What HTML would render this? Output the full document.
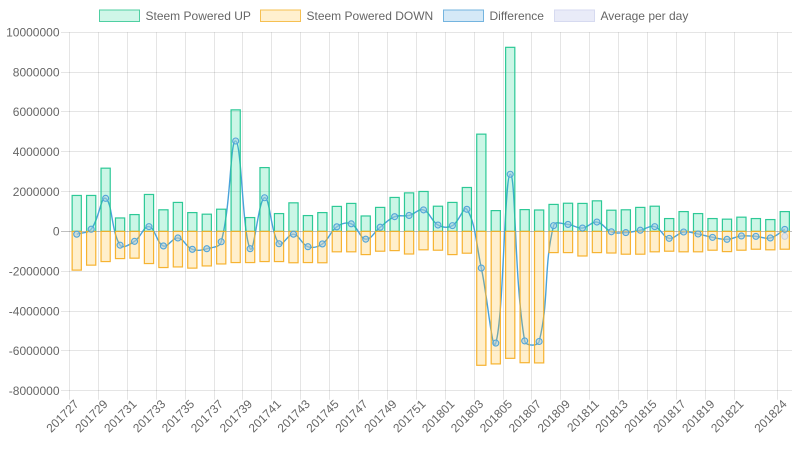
<!DOCTYPE html>
<html>
<head>
<meta charset="utf-8">
<style>
  html,body{margin:0;padding:0;background:#fff;}
  svg{display:block;font-family:"Liberation Sans",Arial,sans-serif;}
  .t{font-size:12px;fill:#666;}
</style>
</head>
<body>
<svg id="c" width="798" height="450" viewBox="0 0 798 450" xmlns="http://www.w3.org/2000/svg">
  <!-- Legend -->
  <rect x="99.5" y="10" width="40" height="11.5" fill="#cff6e8" stroke="#4fcfa2" stroke-width="1"/>
  <text class="t" x="145.5" y="19.8">Steem Powered UP</text>
  <rect x="260.5" y="10" width="40" height="11.5" fill="#fff0cf" stroke="#f6c052" stroke-width="1"/>
  <text class="t" x="306.5" y="19.8">Steem Powered DOWN</text>
  <rect x="443.5" y="10" width="40" height="11.5" fill="#d5e9f7" stroke="#74b4df" stroke-width="1"/>
  <text class="t" x="489.5" y="19.8">Difference</text>
  <rect x="554.5" y="10" width="40" height="11.5" fill="#e9ebf8" stroke="#d6daf0" stroke-width="1"/>
  <text class="t" x="600.5" y="19.8">Average per day</text>

  <g id="grid"></g>

  <!-- Y labels -->
  <g class="t" text-anchor="end">
    <text x="59.5" y="36.6">10000000</text>
    <text x="59.5" y="76.4">8000000</text>
    <text x="59.5" y="116.2">6000000</text>
    <text x="59.5" y="156.1">4000000</text>
    <text x="59.5" y="195.9">2000000</text>
    <text x="59.5" y="235.7">0</text>
    <text x="59.5" y="275.5">-2000000</text>
    <text x="59.5" y="315.3">-4000000</text>
    <text x="59.5" y="355.2">-6000000</text>
    <text x="59.5" y="395.0">-8000000</text>
  </g>

  <!-- X labels -->
  <g class="t" text-anchor="end">
    <text transform="translate(76.7,402) rotate(-45)" dy="4">201727</text>
    <text transform="translate(105.6,402) rotate(-45)" dy="4">201729</text>
    <text transform="translate(134.5,402) rotate(-45)" dy="4">201731</text>
    <text transform="translate(163.4,402) rotate(-45)" dy="4">201733</text>
    <text transform="translate(192.3,402) rotate(-45)" dy="4">201735</text>
    <text transform="translate(221.2,402) rotate(-45)" dy="4">201737</text>
    <text transform="translate(250.1,402) rotate(-45)" dy="4">201739</text>
    <text transform="translate(279.0,402) rotate(-45)" dy="4">201741</text>
    <text transform="translate(307.9,402) rotate(-45)" dy="4">201743</text>
    <text transform="translate(336.8,402) rotate(-45)" dy="4">201745</text>
    <text transform="translate(365.7,402) rotate(-45)" dy="4">201747</text>
    <text transform="translate(394.6,402) rotate(-45)" dy="4">201749</text>
    <text transform="translate(423.5,402) rotate(-45)" dy="4">201751</text>
    <text transform="translate(452.4,402) rotate(-45)" dy="4">201801</text>
    <text transform="translate(481.3,402) rotate(-45)" dy="4">201803</text>
    <text transform="translate(510.2,402) rotate(-45)" dy="4">201805</text>
    <text transform="translate(539.1,402) rotate(-45)" dy="4">201807</text>
    <text transform="translate(568.0,402) rotate(-45)" dy="4">201809</text>
    <text transform="translate(596.9,402) rotate(-45)" dy="4">201811</text>
    <text transform="translate(625.8,402) rotate(-45)" dy="4">201813</text>
    <text transform="translate(654.7,402) rotate(-45)" dy="4">201815</text>
    <text transform="translate(683.6,402) rotate(-45)" dy="4">201817</text>
    <text transform="translate(712.5,402) rotate(-45)" dy="4">201819</text>
    <text transform="translate(741.4,402) rotate(-45)" dy="4">201821</text>
    <text transform="translate(784.8,402) rotate(-45)" dy="4">201824</text>
  </g>

  <g id="line"></g>
  <g id="bars"></g>
  <g id="pts"></g>
</svg>
<script>
(function(){
  var NS="http://www.w3.org/2000/svg";
  function el(tag,attrs,parent){var e=document.createElementNS(NS,tag);for(var k in attrs)e.setAttribute(k,attrs[k]);parent.appendChild(e);return e;}
  var L=69.5,R=792,CW=14.45,TOP=32.3,BOT=390.7;
  function Y(v){return 231.4 - v*19.911;}
  var grid=document.getElementById('grid');
  var vals=[10,8,6,4,2,0,-2,-4,-6,-8];
  vals.forEach(function(v){
    var y=Math.round(Y(v)-0.5)+0.5;
    el('line',{x1:61,x2:R,y1:y,y2:y,stroke:v===0?'rgba(0,0,0,0.25)':'rgba(0,0,0,0.1)','stroke-width':1},grid);
  });
  var idx=[];for(var i=0;i<=46;i+=2)idx.push(i);idx.push(49);
  idx.forEach(function(i){
    var x=Math.round(L+i*CW-0.5)+0.5;
    el('line',{x1:x,x2:x,y1:TOP,y2:BOT+9,stroke:'rgba(0,0,0,0.1)','stroke-width':1},grid);
  });

  var up=[1.83,1.83,3.2,0.70,0.87,1.88,1.11,1.48,0.97,0.89,1.14,6.13,0.72,3.23,0.92,1.46,0.82,0.97,1.28,1.43,0.80,1.23,1.73,1.96,2.03,1.29,1.48,2.23,4.91,1.07,9.27,1.12,1.10,1.38,1.44,1.43,1.56,1.09,1.11,1.23,1.29,0.67,1.02,0.92,0.67,0.64,0.74,0.67,0.62,1.02];
  var dn=[-1.97,-1.72,-1.54,-1.39,-1.37,-1.64,-1.84,-1.81,-1.87,-1.76,-1.66,-1.59,-1.59,-1.54,-1.54,-1.60,-1.59,-1.60,-1.05,-1.05,-1.19,-1.02,-0.99,-1.16,-0.95,-0.97,-1.19,-1.12,-6.75,-6.68,-6.40,-6.62,-6.63,-1.09,-1.09,-1.26,-1.09,-1.11,-1.17,-1.17,-1.05,-1.02,-1.05,-1.05,-0.97,-1.04,-0.97,-0.92,-0.95,-0.92];

  var pts=[];
  for(var i=0;i<50;i++){
    var cx=L+(i+0.5)*CW;
    pts.push({x:cx,y:Y(up[i]+dn[i])});
  }
  var t=0.4, cps=[];
  for(var i=0;i<pts.length;i++){
    var p=pts[i], pr=pts[i-1]||p, nx=pts[i+1]||p;
    var d01=Math.hypot(p.x-pr.x,p.y-pr.y), d12=Math.hypot(nx.x-p.x,nx.y-p.y);
    var s01=d01/(d01+d12)||0, s12=d12/(d01+d12)||0;
    var fa=t*s01, fb=t*s12;
    var c={px:p.x-fa*(nx.x-pr.x), py:p.y-fa*(nx.y-pr.y), nx:p.x+fb*(nx.x-pr.x), ny:p.y+fb*(nx.y-pr.y)};
    c.py=Math.max(TOP,Math.min(BOT,c.py)); c.ny=Math.max(TOP,Math.min(BOT,c.ny));
    cps.push(c);
  }
  var d='M'+pts[0].x.toFixed(2)+' '+pts[0].y.toFixed(2);
  for(var i=1;i<pts.length;i++){
    d+=' C'+cps[i-1].nx.toFixed(2)+' '+cps[i-1].ny.toFixed(2)+' '+cps[i].px.toFixed(2)+' '+cps[i].py.toFixed(2)+' '+pts[i].x.toFixed(2)+' '+pts[i].y.toFixed(2);
  }
  el('path',{d:d,fill:'none',stroke:'#4aa3da','stroke-width':1.4},document.getElementById('line'));

  var bars=document.getElementById('bars');
  var zero=Y(0), bw=10.2;
  for(var i=0;i<50;i++){
    var cx=L+(i+0.5)*CW, x=cx-bw/2;
    var yt=Y(up[i]);
    el('rect',{x:(x+0.5).toFixed(2),y:(yt+0.5).toFixed(2),width:(bw-1).toFixed(2),height:(zero-yt-0.5).toFixed(2),fill:'rgba(20,212,140,0.22)',stroke:'rgba(35,198,145,0.95)','stroke-width':1.2},bars);
    var yb=Y(dn[i]);
    el('rect',{x:(x+0.5).toFixed(2),y:zero.toFixed(2),width:(bw-1).toFixed(2),height:(yb-zero-0.5).toFixed(2),fill:'rgba(255,182,25,0.22)',stroke:'rgba(245,175,40,0.95)','stroke-width':1.2},bars);
  }
  var pg=document.getElementById('pts');
  el('circle',{cx:(L+49.5*CW).toFixed(2),cy:Y(-0.25).toFixed(2),r:3,fill:'rgba(225,228,236,0.9)',stroke:'rgba(200,205,215,0.9)','stroke-width':1},pg);
  for(var i=0;i<50;i++){
    el('circle',{cx:pts[i].x.toFixed(2),cy:pts[i].y.toFixed(2),r:3,fill:'rgba(170,205,225,0.55)',stroke:'#52a5d8','stroke-width':1.1},pg);
  }
})();
</script>
</body>
</html>
